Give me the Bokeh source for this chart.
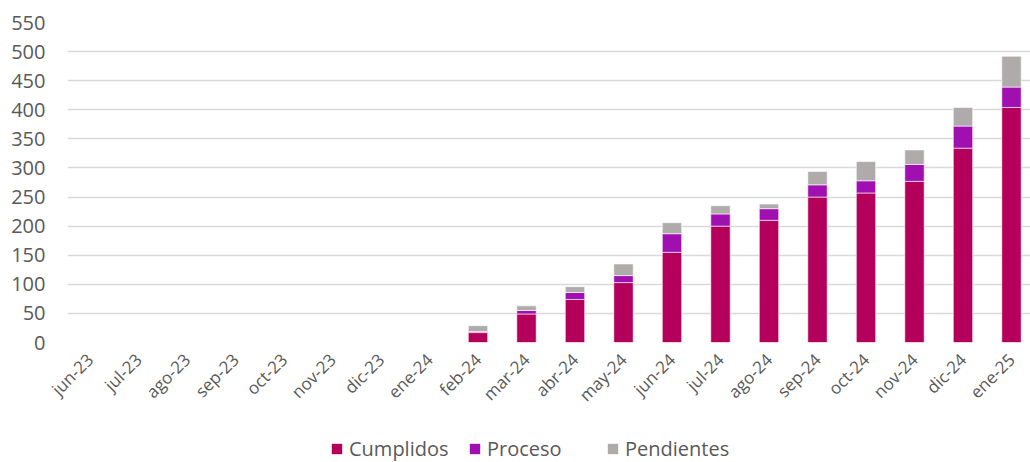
from bokeh.plotting import figure
from bokeh.models import ColumnDataSource, FixedTicker, Legend, LegendItem, Range1d
from bokeh.layouts import column
from bokeh.embed import file_html
from bokeh.resources import INLINE
from math import pi

months = ["jun-23", "jul-23", "ago-23", "sep-23", "oct-23", "nov-23", "dic-23", "ene-24",
          "feb-24", "mar-24", "abr-24", "may-24", "jun-24", "jul-24", "ago-24", "sep-24",
          "oct-24", "nov-24", "dic-24", "ene-25"]
cumplidos = [0, 0, 0, 0, 0, 0, 0, 0, 17, 49, 74, 103, 155, 200, 210, 250, 257, 277, 334, 404]
proceso = [0, 0, 0, 0, 0, 0, 0, 0, 2, 6, 12, 12, 32, 21, 20, 21, 21, 29, 38, 35]
pendientes = [0, 0, 0, 0, 0, 0, 0, 0, 10, 8, 10, 20, 19, 14, 8, 23, 33, 25, 32, 53]
y_ticks = [0, 50, 100, 150, 200, 250, 300, 350, 400, 450, 500, 550]

series = ["Cumplidos", "Proceso", "Pendientes"]
colors = ["#B5005B", "#A010B0", "#AFABAB"]

pos = list(range(len(months)))
source = ColumnDataSource(data=dict(x=pos, Cumplidos=cumplidos, Proceso=proceso, Pendientes=pendientes))

FONT = "Open Sans"
TXT = "#595959"
X_RANGE = (-0.464, 19.392)

# main chart
p = figure(x_range=Range1d(*X_RANGE), y_range=Range1d(0, 550),
           width=1030, height=428, output_backend="svg", toolbar_location=None,
           min_border_left=67, min_border_right=0, min_border_top=22, min_border_bottom=86)

rs = p.vbar_stack(series, x="x", width=0.40, source=source, color=colors,
                  line_color="white", line_width=1, line_alpha=0.6)

p.outline_line_color = None
p.xgrid.grid_line_color = None
p.ygrid.grid_line_color = "#D9D9D9"
p.ygrid.grid_line_width = 1.5

p.yaxis.ticker = FixedTicker(ticks=y_ticks)
p.yaxis.axis_line_color = None
p.yaxis.major_tick_line_color = None
p.yaxis.minor_tick_line_color = None
p.yaxis.major_tick_out = 0
p.yaxis.major_label_standoff = 22
p.yaxis.major_label_text_font = FONT
p.yaxis.major_label_text_font_size = "20px"
p.yaxis.major_label_text_color = TXT

p.xaxis.ticker = FixedTicker(ticks=pos)
p.xaxis.major_label_overrides = {i: m for i, m in zip(pos, months)}
p.xaxis.axis_line_color = None
p.xaxis.major_tick_line_color = None
p.xaxis.minor_tick_line_color = None
p.xaxis.major_tick_out = 0
p.xaxis.major_label_standoff = 14
p.xaxis.major_label_orientation = pi / 4
p.xaxis.major_label_text_font = FONT
p.xaxis.major_label_text_font_size = "17px"
p.xaxis.major_label_text_color = TXT

# legend strip below the chart; its ranges lie far away from the data, so its
# renderers only supply the legend swatches
p2 = figure(x_range=Range1d(5000, 5001), y_range=Range1d(5000, 5001),
            width=1030, height=34, output_backend="svg", toolbar_location=None,
            x_axis_location=None, y_axis_location=None, min_border=0)
p2.outline_line_color = None
p2.grid.visible = False
rs2 = p2.vbar_stack(series, x="x", width=0.40, source=source, fill_color=colors,
                    line_color=None)

legend = Legend(items=[LegendItem(label=s, renderers=[r]) for s, r in zip(series, rs2)],
                orientation="horizontal", location=(263, 0),
                glyph_width=13, glyph_height=13, label_height=20, label_width=110,
                label_text_font=FONT, label_text_font_size="20px", label_text_color=TXT,
                spacing=9, padding=0, margin=0, border_line_color=None,
                background_fill_alpha=0, label_standoff=6)
p2.add_layout(legend, "center")

open("out.html", "w").write(file_html(column(p, p2, spacing=0), INLINE))
